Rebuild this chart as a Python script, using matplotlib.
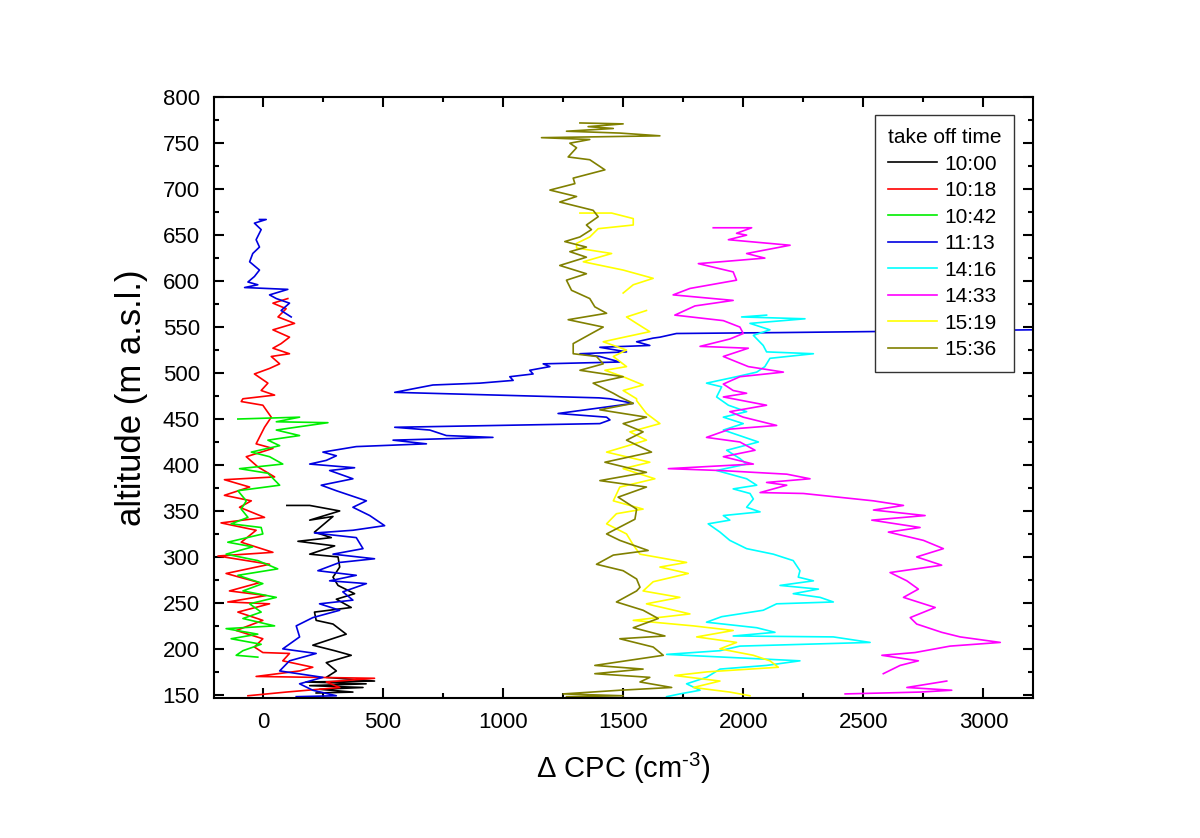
import numpy as np
import matplotlib
matplotlib.use("Agg")
import matplotlib.pyplot as plt
from matplotlib.ticker import MultipleLocator

plt.rcParams['font.family'] = ['Liberation Sans', 'DejaVu Sans']
plt.rcParams['mathtext.fontset'] = 'custom'
plt.rcParams['mathtext.rm'] = 'Liberation Sans'
plt.rcParams['mathtext.it'] = 'Liberation Sans:italic'

nan = np.nan

labels = ["10:00", "10:18", "10:42", "11:13", "14:16", "14:33", "15:19", "15:36"]
colors = ["#000000", "#FF0000", "#00EE00", "#0000E0", "#00FFFF", "#FF00FF", "#FFFF00", "#808000"]

alt_1000 = [356, 356, 350, 340, 344, 327, 321, 317, 312, 303, 300, 289, 278, 269, 260, 254, 245, 240, 231, 227,
            216, 204, 198, 193, 185, 176, 169, 165, 164, 162, 160, 158, 156, 153, 152]
cpc_1000 = [100, 195, 320, 195, 292, 215, 285, 146, 299, 195, 313, 320, 292, 313, 382, 306, 368, 215, 222, 292,
            347, 208, 299, 368, 264, 306, 264, 465, 180, 430, 195, 417, 236, 375, 222]

alt_1018 = [581, 576, 570, 561, 554, 547, 539, 532, 527, 521, 518, 510, 505, 499, 489, 481, 476, 472, 469, 465,
            452, 441, 423, 418, 409, 398, 387, 384, 376, 367, 361, 354, 343, 337, 329, 316, 305, 301, 292, 282,
            272, 263, 258, 251, 249, 240, 231, 220, 211, 202, 196, 195, 187, 180, 176, 170, 168, 164, 158, 153, 149]
cpc_1018 = [104, 42, 97, 63, 132, 42, 111, 76, 42, 111, 35, 70, 28, -35, 21, -7, 49, -83, -90, 0,
            35, 7, -28, 42, -69, -21, 49, -160, -55, -160, -48, -97, 7, -174, -28, -90, 42, -187, 28, -153,
            -14, -139, 14, -146, 28, -104, 0, -111, 0, -35, 0, 111, 83, 208, 153, -28, 465, 264, 320, 97, -62]

alt_1042 = [450, 452, 447, 446, 438, 432, 427, 421, 414, 409, 401, 396, 391, 378, 372, 361, 352, 343, 336, 332,
            325, 316, 311, 303, 296, 287, 280, 271, 263, 256, 249, 240, 233, 225, 222, 216, 211, 205, 198, 193, 191]
cpc_1042 = [-104, 153, 56, 271, 56, 153, 21, 70, -48, 28, 83, -97, 21, 70, -104, -69, -90, -62, -132, -7,
            0, -146, -42, -153, -21, 62, -104, 0, -83, 56, -55, -7, -83, 49, -153, -21, -132, -7, -83, -111, -21]

alt_1113 = [667, 667, 663, 656, 645, 637, 630, 621, 612, 605, 599, 596, 593, 591, 585, 581, 576, 568, 561, nan,
            547, 544, 543, 539, 538, 534, 530, 528, 523, 521, 518, 512, 510, 507, 503, 499, 496, 492, 489, 487,
            479, 473, 472, 467, 456, 452, 449, 445, 441, 438, 432, 430, 427, 423, 420, 414, 410, 405, 401, 397,
            394, 385, 378, 372, 361, 354, 345, 334, 329, 326, 321, 309, 303, 298, 294, 285, 280, 274, 271, 262,
            253, 249, 242, 234, 225, 213, 200, 195, 187, 176, 169, 162, 155, 149, 148]
cpc_1113 = [-14, 14, -35, -7, -28, -14, -42, -55, -14, -35, -62, -21, -76, 104, 28, 56, 111, 76, 118, nan,
            3200, 2153, 1722, 1653, 1625, 1556, 1611, 1403, 1514, 1320, 1403, 1486, 1167, 1195, 1111, 1125, 1028, 1042, 903, 708,
            549, 1400, 1445, 1542, 1229, 1431, 1445, 1403, 549, 695, 764, 958, 542, 681, 389, 250, 306, 264, 195, 382,
            278, 375, 243, 306, 431, 375, 445, 507, 375, 215, 389, 417, 292, 465, 320, 229, 389, 278, 431, 333,
            375, 236, 320, 208, 139, 153, 83, 222, 111, 70, 250, 153, 208, 306, 139]

alt_1416 = [563, 561, 559, 554, 547, 541, 530, 523, 521, 516, 507, 501, 496, 489, 485, 474, 465, 458, 452, 445,
            438, 425, 416, 407, 401, 394, 385, 378, 374, 369, 363, 354, 349, 345, 340, 336, 327, 318, 309, 303,
            296, 285, 278, 274, 269, 265, 260, 256, 251, 249, 242, 235, 229, 223, 218, 214, 213, 207, 203, 198,
            194, 187, 182, 178, 169, 162, 155, 151, 148]
cpc_1416 = [2097, 1993, 2257, 2028, 2111, 2042, 2083, 2097, 2292, 2111, 2090, 2056, 1972, 1847, 1910, 1889, 1938, 2014, 1917, 2000,
            1917, 2063, 1931, 1986, 2014, 1889, 2014, 2056, 1958, 2028, 2042, 2014, 2070, 1917, 1944, 1854, 1903, 1944, 2014, 2125,
            2208, 2236, 2229, 2292, 2153, 2313, 2208, 2320, 2375, 2139, 2083, 1910, 1847, 2056, 2132, 1958, 2375, 2528, 1986, 1903,
            1681, 2236, 2097, 1903, 1847, 1764, 1820, 1736, 1681]

alt_1433 = [658, 658, 652, 650, 645, 639, 630, 625, 619, 610, 601, 592, 585, 579, 573, 563, 557, 550, 543, 537,
            529, 527, 518, 507, 501, 496, 488, 481, 478, 474, 465, 458, 452, 443, 439, 430, 425, 416, 409, 401,
            396, 394, 390, 385, 381, 378, 370, 369, 361, 356, 351, 345, 340, 332, 327, 318, 309, 300, 291, 283,
            274, 265, 256, 245, 234, 227, 218, 213, 207, 203, 196, 193, 187, 182, 173, nan, 165, 158, 155, 153, 151]
cpc_1433 = [1875, 2035, 1972, 2014, 1938, 2195, 2014, 2090, 1813, 1958, 1972, 1778, 1708, 1958, 1799, 1715, 1917, 1986, 2000, 1944,
            1820, 2021, 1917, 2021, 2167, 1986, 1917, 1958, 2014, 1917, 2097, 1944, 2000, 2139, 1944, 1847, 1986, 2049, 1917, 2042,
            1688, 1903, 2181, 2278, 2097, 2181, 2070, 2250, 2542, 2667, 2542, 2757, 2535, 2736, 2604, 2750, 2833, 2722, 2826, 2611,
            2681, 2729, 2667, 2799, 2695, 2722, 2826, 2903, 3070, 2861, 2715, 2577, 2729, 2653, 2583, nan, 2847, 2681, 2868, 2736, 2424]

alt_1519 = [674, 674, 668, 661, 657, 648, 641, 636, 630, 621, 612, 603, 596, 587, nan,
            568, 561, 554, 545, 538, 534, 525, 518, 507, 503, 496, 487, 481, 472, 470, 456,
            445, 436, 427, 414, 403, 396, 385, 376, 361, 352, 347, 336, 325, 313, 303, 294, 289, 282, 273, 263,
            256, 249, 238, 231, 225, 220, 213, 207, 200, 193, 187, 180, 175, 171, 165, 158, 153, 149]
cpc_1519 = [1320, 1452, 1542, 1542, 1396, 1361, 1306, 1306, 1452, 1334, 1500, 1625, 1542, 1500, nan,
            1597, 1514, 1556, 1611, 1486, 1417, 1514, 1459, 1514, 1424, 1500, 1583, 1500, 1556, 1556, 1597,
            1653, 1528, 1597, 1431, 1611, 1500, 1632, 1486, 1459, 1583, 1472, 1431, 1514, 1542, 1570, 1764, 1653, 1771, 1625, 1583,
            1736, 1597, 1778, 1542, 1792, 1958, 1806, 1972, 1903, 2042, 2111, 2146, 1850, 1715, 1903, 1792, 1944, 2028]

alt_1536 = [772, 771, 768, 766, 763, 761, 758, 756, 754, 750, 745, 735, 732, 721, 712, 706, 699, 692, 686, 677,
            670, 661, 656, 648, 643, 637, 632, 626, 617, 608, 601, 590, 581, 572, 565, 558, 550, 543, 532, 521,
            518, 510, 503, 496, 489, 478, 474, 467, 460, 452, 445, 436, 427, 414, 403, 392, 383, 376, 365, 352,
            341, 325, 318, 307, 302, 292, 285, 276, 267, 263, 251, 242, 233, 223, 214, 211, 202, 193, 182, 178,
            173, 169, 164, 158, 155, 151, 149, 148]
cpc_1536 = [1320, 1500, 1354, 1459, 1264, 1486, 1653, 1160, 1361, 1278, 1306, 1271, 1361, 1424, 1292, 1299, 1195, 1306, 1236, 1375,
            1396, 1347, 1368, 1320, 1257, 1347, 1278, 1347, 1236, 1347, 1264, 1285, 1361, 1382, 1431, 1271, 1417, 1368, 1292, 1292,
            1389, 1417, 1320, 1500, 1375, 1459, 1486, 1542, 1403, 1597, 1500, 1583, 1514, 1618, 1424, 1597, 1403, 1597, 1479, 1556,
            1549, 1431, 1486, 1604, 1459, 1389, 1500, 1556, 1570, 1556, 1472, 1583, 1646, 1542, 1674, 1486, 1625, 1667, 1382, 1583,
            1382, 1611, 1570, 1702, 1486, 1250, 1500, 1264]

series_alt = [alt_1000, alt_1018, alt_1042, alt_1113, alt_1416, alt_1433, alt_1519, alt_1536]
series_cpc = [cpc_1000, cpc_1018, cpc_1042, cpc_1113, cpc_1416, cpc_1433, cpc_1519, cpc_1536]

fig = plt.figure(figsize=(12, 8.38), dpi=100)
ax = fig.add_axes([0.178, 0.167, 0.683, 0.717])

for a, c, lab, col in zip(series_alt, series_cpc, labels, colors):
    n = min(len(a), len(c))
    ax.plot(c[:n], a[:n], color=col, lw=1.2, label=lab)

ax.set_xlim(-205, 3207)
ax.set_ylim(146.5, 800)
ax.xaxis.set_major_locator(MultipleLocator(500))
ax.xaxis.set_minor_locator(MultipleLocator(250))
ax.yaxis.set_major_locator(MultipleLocator(50))
ax.yaxis.set_minor_locator(MultipleLocator(25))
ax.tick_params(which='both', direction='in', top=True, right=True, labelsize=16, pad=10)
ax.tick_params(which='major', length=7, width=1.5)
ax.tick_params(which='minor', length=3.5, width=1.5)
for s in ax.spines.values():
    s.set_linewidth(1.5)

ax.set_ylabel("altitude (m a.s.l.)", fontsize=25)
ax.set_xlabel("Δ CPC (cm$^{\\text{-3}}$)", fontsize=21)
ax.yaxis.set_label_coords(-0.08, 0.5)
ax.xaxis.set_label_coords(0.5, -0.088)

leg = ax.legend(loc='upper right', bbox_to_anchor=(0.977, 0.970), fontsize=15,
                title="take off time", title_fontsize=15, alignment='left',
                frameon=True, fancybox=False, framealpha=1, edgecolor='#333333',
                handlelength=2.35, labelspacing=0.36, borderpad=0.62, handletextpad=0.34,
                borderaxespad=0)
leg.set_zorder(10)
leg.get_frame().set_linewidth(1.0)

fig.savefig("out.png", dpi=100)
